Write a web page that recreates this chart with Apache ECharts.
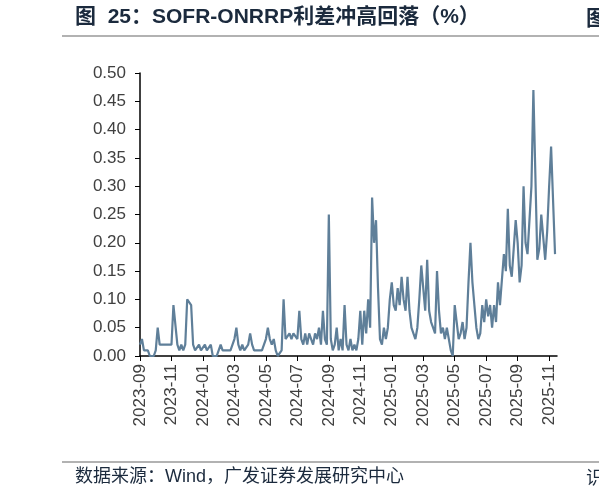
<!DOCTYPE html>
<html>
<head>
<meta charset="utf-8">
<script src="https://cdn.jsdelivr.net/npm/echarts@6/dist/echarts.min.js"></script>
<style>
  body { margin: 0; background: #fff; }
  #chart { width: 599px; height: 500px; }
</style>
</head>
<body>
<div id="chart"></div>
<script>
  // 月度标签（从2023-09开始）
  var monthLabels = ["2023-09", "2023-10", "2023-11", "2023-12", "2024-01", "2024-02", "2024-03", "2024-04",
    "2024-05", "2024-06", "2024-07", "2024-08", "2024-09", "2024-10", "2024-11", "2024-12",
    "2025-01", "2025-02", "2025-03", "2025-04", "2025-05", "2025-06", "2025-07", "2025-08",
    "2025-09", "2025-10", "2025-11"]

  // SOFR-ONRRP利差（单位0.01%），每月约8个观测
  var spreadByMonth = [
    [2, 3, 1, 1, 1, 0, 0, 0],
    [1, 5, 2, 2, 2, 2, 2, 2],
    [2, 9, 9, 2, 1, 2, 1, 2],
    [10, 10, 9, 2, 1, 1, 2, 1],
    [1, 2, 1, 1, 2, 0, 0, 0],
    [1, 2, 1, 1, 1, 1, 1, 1],
    [3, 5, 2, 1, 2, 1, 1, 2],
    [4, 2, 1, 1, 1, 1, 1, 1],
    [3, 5, 3, 2, 3, 1, 0, 0],
    [1, 10, 3, 3, 4, 3, 4, 4],
    [3, 8, 3, 2, 4, 2, 4, 3],
    [2, 4, 3, 5, 2, 8, 3, 2],
    [25, 3, 1, 2, 5, 1, 3, 1],
    [9, 2, 1, 3, 1, 2, 1, 3],
    [8, 2, 8, 4, 10, 5, 28, 20],
    [24, 12, 3, 2, 5, 3, 5, 10],
    [13, 9, 8, 12, 9, 14, 10, 8],
    [14, 8, 5, 4, 3, 5, 10, 16],
    [12, 8, 17, 8, 6, 5, 4, 15],
    [8, 4, 5, 3, 5, 3, 1, 0],
    [9, 6, 3, 4, 6, 3, 5, 13],
    [20, 13, 9, 5, 3, 4, 9, 6],
    [10, 7, 9, 5, 9, 6, 13, 9],
    [9, 18, 15, 26, 16, 14, 19, 24],
    [20, 13, 16, 30, 20, 18, 24, 30],
    [47, 47, 17, 19, 25, 25, 17, 22],
    [30, 37, 37, 18]
  ]

  var seriesData = []
  spreadByMonth.forEach(function (arr, m) {
    arr.forEach(function (v, k) {
      seriesData.push([m + k / 8, v / 100])
    })
  })

  var chart = echarts.init(document.getElementById("chart"))
  var labelColor = "#404040"

  chart.setOption({
    animation: false,
    graphic: [
      { type: "text", left: 75, top: 7, style: { text: "图  25：SOFR-ONRRP利差冲高回落（%）", font: "bold 21px 'Liberation Sans', 'Noto Sans CJK SC'", fill: "#1b2a3d" } },
      { type: "text", left: 586, top: 7, style: { text: "图", font: "bold 21px 'Noto Sans CJK SC'", fill: "#1b2a3d" } },
      { type: "line", shape: { x1: 62, y1: 36, x2: 599, y2: 36 }, style: { stroke: "#666", lineWidth: 1.2 } },
      { type: "line", shape: { x1: 62, y1: 462, x2: 599, y2: 462 }, style: { stroke: "#666", lineWidth: 1.2 } },
      { type: "text", left: 75, top: 468, style: { text: "数据来源：Wind，广发证券发展研究中心", font: "18px 'Liberation Sans', 'Noto Sans CJK SC'", fill: "#1b2a3d" } },
      { type: "text", left: 586, top: 468, style: { text: "识", font: "18px 'Noto Sans CJK SC'", fill: "#1b2a3d" } }
    ],
    grid: { left: 140, right: 42, top: 73, bottom: 144 },
    xAxis: {
      type: "value",
      min: 0,
      max: 26.5,
      interval: 2,
      splitLine: { show: false },
      axisLine: { lineStyle: { color: "#000", width: 1.5 } },
      axisTick: { show: true, length: 5, lineStyle: { color: "#000" } },
      axisLabel: {
        rotate: 90,
        color: labelColor,
        fontSize: 17,
        fontFamily: "Liberation Sans",
        showMaxLabel: false,
        formatter: function (v) { return monthLabels[Math.round(v)] || "" }
      }
    },
    yAxis: {
      type: "value",
      min: 0,
      max: 0.5,
      interval: 0.05,
      splitLine: { show: false },
      axisLine: { show: true, lineStyle: { color: "#000", width: 1.5 } },
      axisTick: { show: true, length: 5, lineStyle: { color: "#000" } },
      axisLabel: {
        color: labelColor,
        fontSize: 17,
        fontFamily: "Liberation Sans",
        margin: 14,
        formatter: function (v) { return v.toFixed(2) }
      }
    },
    series: [{
      type: "line",
      data: seriesData,
      showSymbol: false,
      lineStyle: { color: "#5f7f99", width: 2.2 }
    }]
  })
</script>
</body>
</html>
